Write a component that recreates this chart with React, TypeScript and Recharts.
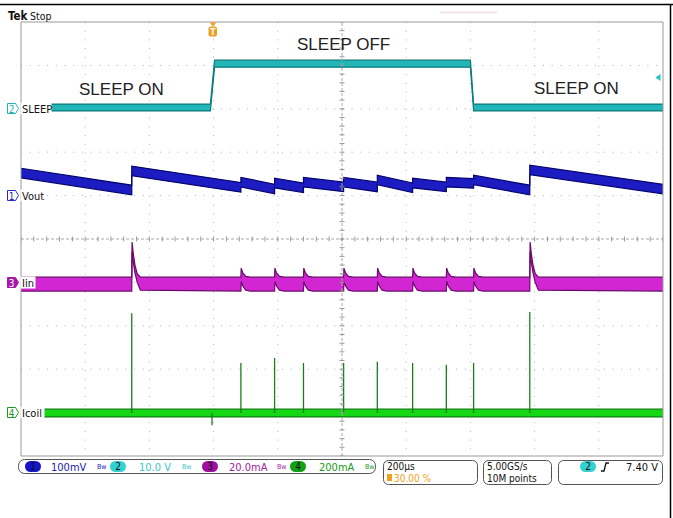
import { ComposedChart, Area, Line, Scatter, XAxis, YAxis, CartesianGrid, ReferenceLine } from "recharts";

// Scope capture: time in µs (200 µs/div, trigger at 30 %), vertical in screen divisions (0 = centre)
const TIME_DOMAIN = [-600, 1400];
const DIV_DOMAIN = [-5, 5];
const GRID_T = [-400, -200, 0, 200, 600, 800, 1000, 1200];
const GRID_V = [-4, -3, -2, -1, 1, 2, 3, 4];
const CENTER_T = 400;
const minorT: number[] = [];
for (let t = -600; t <= 1400; t += 40) minorT.push(t);
const minorV: number[] = [];
for (let i = -25; i <= 25; i++) minorV.push(i / 5);

// ch2 SLEEP, centre of trace
const sleepT = [-600, -10, 3, 800, 810, 1400];
const sleepV = [3.03, 3.03, 4.04, 4.04, 3.03, 3.03];
const SLEEP_NOISE = 0.08;

// ch1 Vout sawtooth (refresh = two samples at one time)
const voutT = [-600, -255, -255, 85, 85, 190, 190, 280, 280, 405, 405, 510, 510, 620, 620, 725, 725, 810, 810, 985, 985, 1400];
const voutV = [1.52, 1.13, 1.57, 1.19, 1.31, 1.15, 1.29, 1.18, 1.31, 1.2, 1.31, 1.2, 1.36, 1.18, 1.29, 1.2, 1.31, 1.28, 1.36, 1.13, 1.59, 1.15];
const VOUT_NOISE = 0.11;

// ch3 Iin: [time, band bottom, band top]
const iinPts: [number, number, number][] = [
  [-600, -1.2, -0.88],
  [-255, -1.2, -0.88], [-254, -0.3, -0.07], [-250, -0.55, -0.35], [-245, -0.78, -0.6], [-238, -1.0, -0.8], [-228, -1.18, -0.88],
  [85, -1.2, -0.88], [86, -0.98, -0.67], [91, -1.08, -0.78], [100, -1.18, -0.86], [115, -1.2, -0.88],
  [190, -1.2, -0.88], [191, -0.98, -0.67], [196, -1.08, -0.78], [205, -1.18, -0.86], [220, -1.2, -0.88],
  [280, -1.2, -0.88], [281, -0.98, -0.67], [286, -1.08, -0.78], [295, -1.18, -0.86], [310, -1.2, -0.88],
  [405, -1.2, -0.88], [406, -0.98, -0.67], [411, -1.08, -0.78], [420, -1.18, -0.86], [435, -1.2, -0.88],
  [510, -1.2, -0.88], [511, -0.98, -0.67], [516, -1.08, -0.78], [525, -1.18, -0.86], [540, -1.2, -0.88],
  [620, -1.2, -0.88], [621, -0.98, -0.67], [626, -1.08, -0.78], [635, -1.18, -0.86], [650, -1.2, -0.88],
  [725, -1.2, -0.88], [726, -0.98, -0.67], [731, -1.08, -0.78], [740, -1.18, -0.86], [755, -1.2, -0.88],
  [810, -1.2, -0.88], [811, -0.98, -0.67], [816, -1.08, -0.78], [825, -1.18, -0.86], [840, -1.2, -0.88],
  [985, -1.2, -0.88], [986, -0.3, -0.07], [990, -0.55, -0.35], [995, -0.78, -0.6], [1002, -1.0, -0.8], [1012, -1.18, -0.88],
  [1400, -1.2, -0.88],
];

// ch4 Icoil baseline and pulses
const icoilT = [-600, 1400];
const icoilV = [-4.01, -4.01];
const ICOIL_NOISE = 0.09;
const pulseT = [-255, -5, 85, 190, 280, 405, 510, 620, 725, 810, 985];
const pulseTop = [-1.71, -4.29, -2.86, -2.74, -2.86, -2.86, -2.83, -2.86, -2.9, -2.86, -1.68];

const sleepRows = sleepT.map((t, i) => ({ t, band: [sleepV[i] - SLEEP_NOISE, sleepV[i] + SLEEP_NOISE] }));
const voutRows = voutT.map((t, i) => ({ t, band: [voutV[i] - VOUT_NOISE, voutV[i] + VOUT_NOISE] }));
const iinRows = iinPts.map(([t, lo, hi]) => ({ t, band: [lo, hi] }));
const icoilRows = icoilT.map((t, i) => ({ t, band: [icoilV[i] - ICOIL_NOISE, icoilV[i] + ICOIL_NOISE] }));
const pulseRows = pulseT.flatMap((t, i) => [
  { t, v: icoilV[0] },
  { t, v: pulseTop[i] },
  { t, v: null },
]);
const hTicks = minorT.map((t) => ({ t, v: 0 }));
const vTicks = minorV.map((v) => ({ t: CENTER_T, v }));

const FONT = "'DejaVu Sans Condensed', 'DejaVu Sans', sans-serif";
const GRAY = "#9a9a9a";

const HTick = (p: any) => <line x1={p.cx} x2={p.cx} y1={p.cy - 2.5} y2={p.cy + 2.5} stroke={GRAY} strokeWidth={1} />;
const VTick = (p: any) => <line x1={p.cx - 2.5} x2={p.cx + 2.5} y1={p.cy} y2={p.cy} stroke={GRAY} strokeWidth={1} />;

function ChannelTag({ y, n, label, w, color, filled }: { y: number; n: string; label: string; w: number; color: string; filled?: boolean }) {
  return (
    <g>
      <rect x={20.5} y={y - 6} width={w} height={12} fill="#fff" />
      <path d={`M7.5 ${y - 5} h8 l3 5 l-3 5 h-8 z`} fill={filled ? color : "#fff"} stroke={color} strokeWidth={1} />
      <text x={11.5} y={y + 4} fontSize={10} fill={filled ? "#fff" : color} fontFamily={FONT} textAnchor="middle">{n}</text>
      <text x={22} y={y + 4.5} fontSize={11} fill="#111" fontFamily={FONT}>{label}</text>
    </g>
  );
}

function Pill({ cx, n, color }: { cx: number; n: string; color: string }) {
  return (
    <g>
      <rect x={cx - 8} y={461} width={16} height={11} rx={5.5} fill={color} />
      <text x={cx} y={470} fontSize={10} fill="#111" fontFamily={FONT} textAnchor="middle">{n}</text>
    </g>
  );
}

export default function App() {
  return (
    <div style={{ position: "relative", width: 673, height: 518, background: "#fff" }}>
      <style>{"body{margin:0}"}</style>
      <ComposedChart width={673} height={518} margin={{ top: 22, right: 10, bottom: 62, left: 21 }}>
        <XAxis dataKey="t" type="number" domain={TIME_DOMAIN} hide allowDataOverflow />
        <YAxis type="number" domain={DIV_DOMAIN} hide allowDataOverflow />
        <XAxis xAxisId="top" orientation="top" type="number" domain={TIME_DOMAIN} ticks={minorT} mirror tick={false} tickSize={3} stroke={GRAY} />
        <XAxis xAxisId="bot" orientation="bottom" type="number" domain={TIME_DOMAIN} ticks={minorT} mirror tick={false} tickSize={3} stroke={GRAY} />
        <YAxis yAxisId="l" orientation="left" type="number" domain={DIV_DOMAIN} ticks={minorV} mirror tick={false} tickSize={3} stroke={GRAY} />
        <YAxis yAxisId="r" orientation="right" type="number" domain={DIV_DOMAIN} ticks={minorV} mirror tick={false} tickSize={3} stroke={GRAY} />
        <CartesianGrid verticalValues={GRID_T} horizontalValues={GRID_V} stroke="#b0b0b0" strokeDasharray="1 7.7" />
        <ReferenceLine y={0} stroke="#a8a8a8" strokeDasharray="3 2" />
        <ReferenceLine x={CENTER_T} stroke="#a8a8a8" strokeDasharray="3 2" />
        <Scatter data={hTicks} dataKey="v" shape={HTick} isAnimationActive={false} />
        <Scatter data={vTicks} dataKey="v" shape={VTick} isAnimationActive={false} />

        <Area data={sleepRows} dataKey="band" type="linear" fill="#22b6b6" fillOpacity={1} stroke="#0b7a7c" strokeWidth={1.2} dot={false} activeDot={false} isAnimationActive={false} />
        <Area data={voutRows} dataKey="band" type="linear" fill="#1c1cc2" fillOpacity={1} stroke="#05056e" strokeWidth={1.2} dot={false} activeDot={false} isAnimationActive={false} />
        <Area data={iinRows} dataKey="band" type="linear" fill="#d226d2" fillOpacity={1} stroke="#6c0a6c" strokeWidth={1.2} dot={false} activeDot={false} isAnimationActive={false} />
        <Line data={pulseRows} dataKey="v" type="linear" stroke="#1d7d1d" strokeWidth={1.3} dot={false} activeDot={false} connectNulls={false} isAnimationActive={false} />
        <Area data={icoilRows} dataKey="band" type="linear" fill="#14d814" fillOpacity={1} stroke="#0b7f0b" strokeWidth={1.2} dot={false} activeDot={false} isAnimationActive={false} />
      </ComposedChart>

      <svg width={673} height={518} style={{ position: "absolute", left: 0, top: 0, pointerEvents: "none" }}>
        <line x1={0} x2={673} y1={4.5} y2={4.5} stroke="#000" strokeWidth={1.5} />
        <line x1={670.5} x2={670.5} y1={4} y2={518} stroke="#000" strokeWidth={1.5} />
        <line x1={440} x2={497} y1={12.5} y2={12.5} stroke="#f4dde8" strokeWidth={1.5} />
        <text x={8} y={20} fontSize={11.5} fontWeight="bold" fill="#111" fontFamily={FONT}>Tek</text>
        <text x={30} y={20} fontSize={10.5} fill="#111" fontFamily={FONT}>Stop</text>

        <path d="M209.5 22.5 h7 l-3.5 4 z" fill="#f0a020" />
        <rect x={208.5} y={26.5} width={8.5} height={10} rx={2} fill="#f0a020" />
        <text x={212.75} y={35} fontSize={8.5} fontWeight="bold" fill="#fff" fontFamily={FONT} textAnchor="middle">T</text>
        <path d="M655.5 77.5 l5 -3.5 v7 z" fill="#22c4c4" />

        <text x={79} y={95} fontSize={17} fill="#222" fontFamily="'Liberation Sans', Arial, sans-serif">SLEEP ON</text>
        <text x={297} y={50} fontSize={17} fill="#222" fontFamily="'Liberation Sans', Arial, sans-serif">SLEEP OFF</text>
        <text x={534} y={94} fontSize={17} fill="#222" fontFamily="'Liberation Sans', Arial, sans-serif">SLEEP ON</text>

        <ChannelTag y={108.5} n="2" label="SLEEP" w={31} color="#1fb3b8" />
        <ChannelTag y={195.5} n="1" label="Vout" w={26} color="#2828c8" />
        <ChannelTag y={282.5} n="3" label="Iin" w={15} color="#a818a8" filled />
        <ChannelTag y={412.5} n="4" label="Icoil" w={24} color="#1a9a1a" />

        <rect x={18.5} y={459.5} width={357} height={14} rx={6} fill="#fff" stroke="#555" strokeWidth={1} />
        <Pill cx={33} n="1" color="#1414c8" />
        <text x={51} y={470.5} fontSize={11} fill="#2020b8" fontFamily={FONT}>100mV</text>
        <text x={97} y={469} fontSize={7} fill="#2020b8" fontFamily={FONT}>Bw</text>
        <Pill cx={118} n="2" color="#33d2d2" />
        <text x={139} y={470.5} fontSize={11} fill="#3cc6c6" fontFamily={FONT}>10.0 V</text>
        <text x={182} y={469} fontSize={7} fill="#3cc6c6" fontFamily={FONT}>Bw</text>
        <Pill cx={210} n="3" color="#a010a0" />
        <text x={229} y={470.5} fontSize={11} fill="#a020a0" fontFamily={FONT}>20.0mA</text>
        <text x={277} y={469} fontSize={7} fill="#a020a0" fontFamily={FONT}>Bw</text>
        <Pill cx={298} n="4" color="#14a014" />
        <text x={319} y={470.5} fontSize={11} fill="#189a18" fontFamily={FONT}>200mA</text>
        <text x={365} y={469} fontSize={7} fill="#189a18" fontFamily={FONT}>Bw</text>

        <rect x={383.5} y={460.5} width={94} height={24} rx={5} fill="#fff" stroke="#555" strokeWidth={1} />
        <text x={387} y={469.5} fontSize={10} fill="#111" fontFamily={FONT}>200µs</text>
        <rect x={387} y={474} width={5} height={7} fill="#f0a020" />
        <text x={394} y={481.5} fontSize={10} fill="#f0a020" fontFamily={FONT}>30.00 %</text>

        <rect x={483.5} y={460.5} width={68} height={24} rx={5} fill="#fff" stroke="#555" strokeWidth={1} />
        <text x={487} y={469.5} fontSize={10} fill="#111" fontFamily={FONT}>5.00GS/s</text>
        <text x={487} y={481.5} fontSize={10} fill="#111" fontFamily={FONT}>10M points</text>

        <rect x={558.5} y={460.5} width={104} height={24} rx={5} fill="#fff" stroke="#555" strokeWidth={1} />
        <Pill cx={588} n="2" color="#33d2d2" />
        <path d="M601 471 h3 l2 -8 h3" fill="none" stroke="#111" strokeWidth={1.3} />
        <text x={626} y={470.5} fontSize={11} fill="#111" fontFamily={FONT}>7.40 V</text>
      </svg>
    </div>
  );
}
